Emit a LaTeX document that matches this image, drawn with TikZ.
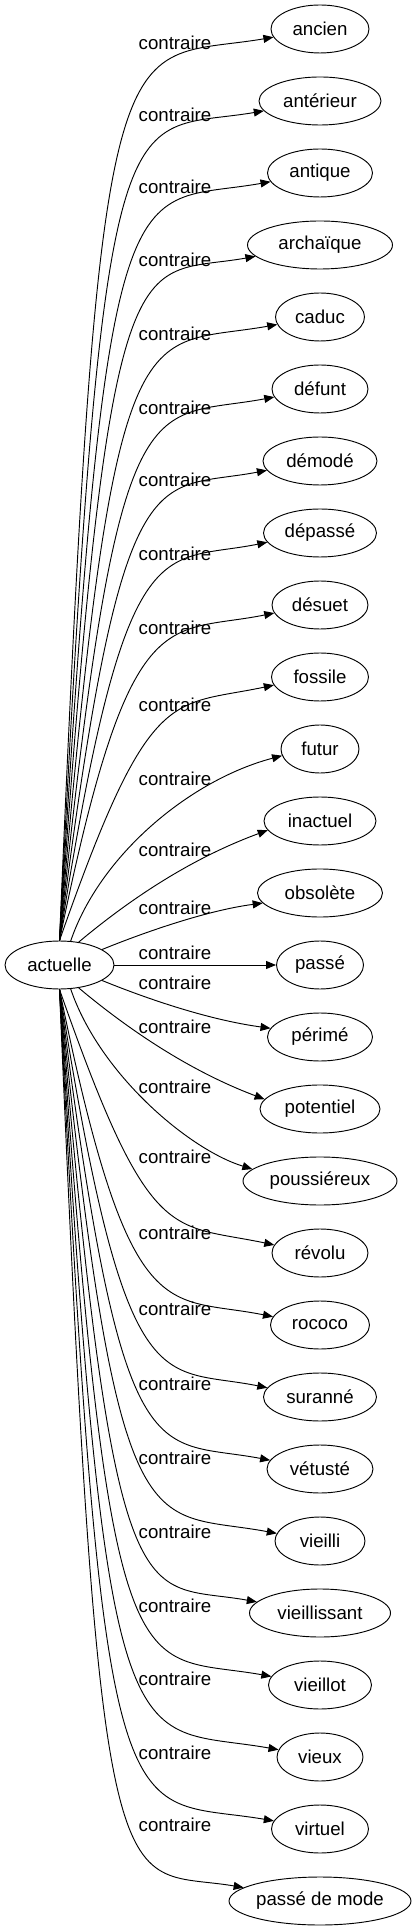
\documentclass[tikz,border=0pt]{standalone}
\usepackage{fontspec}
\setmainfont{Liberation Sans}
\usetikzlibrary{arrows.meta,shapes.geometric}

\begin{document}
\begin{tikzpicture}[x=0.75pt, y=0.75pt,
  word/.style={draw, ellipse, line width=0.7pt, inner sep=0pt, minimum height=36pt,
    minimum width=#1, font=\fontsize{14pt}{16pt}\selectfont},
  lab/.style={inner sep=0pt, font=\fontsize{14pt}{16pt}\selectfont},
  rel/.style={-{Triangle[length=7.5pt, width=6pt]}, line width=0.7pt}]
  \useasboundingbox (0,-966) rectangle (416,965);

  % Define nodes for all elements
  \node[word=81.75pt] (actuelle) at (59.5,0) {actuelle};
  \node[word=73.5pt] (ancien) at (320,936) {ancien};
  \node[word=91.5pt] (anterieur) at (320,864) {antérieur};
  \node[word=78.75pt] (antique) at (320,792) {antique};
  \node[word=108.75pt] (archaique) at (320,720) {archaïque};
  \node[word=66.75pt] (caduc) at (320,648) {caduc};
  \node[word=72pt] (defunt) at (320,576) {défunt};
  \node[word=85.5pt] (demode) at (320,504) {démodé};
  \node[word=84.75pt] (depasse) at (320,432) {dépassé};
  \node[word=72pt] (desuet) at (320,360) {désuet};
  \node[word=72.75pt] (fossile) at (320,288) {fossile};
  \node[word=58.5pt] (futur) at (320,216) {futur};
  \node[word=84pt] (inactuel) at (320,144) {inactuel};
  \node[word=93.75pt] (obsolete) at (320,72) {obsolète};
  \node[word=65.25pt] (passe) at (320,0) {passé};
  \node[word=78.75pt] (perime) at (320,-72) {périmé};
  \node[word=90pt] (potentiel) at (320,-144) {potentiel};
  \node[word=115.5pt] (poussiereux) at (320,-216) {poussiéreux};
  \node[word=72pt] (revolu) at (320,-288) {révolu};
  \node[word=74.25pt] (rococo) at (320,-360) {rococo};
  \node[word=84.75pt] (suranne) at (320,-432) {suranné};
  \node[word=79.5pt] (vetuste) at (320,-504) {vétusté};
  \node[word=67.5pt] (vieilli) at (320,-576) {vieilli};
  \node[word=105.75pt] (vieillissant) at (320,-648) {vieillissant};
  \node[word=77.25pt] (vieillot) at (320,-720) {vieillot};
  \node[word=64.5pt] (vieux) at (320,-792) {vieux};
  \node[word=72.75pt] (virtuel) at (320,-864) {virtuel};
  \node[word=136.5pt] (passedemode) at (320,-936) {passé de mode};

  % Labels
  \node[lab] (c1) at (175,922) {contraire};
  \node[lab] (c2) at (175,850) {contraire};
  \node[lab] (c3) at (175,778) {contraire};
  \node[lab] (c4) at (175,705) {contraire};
  \node[lab] (c5) at (175,631) {contraire};
  \node[lab] (c6) at (175,557) {contraire};
  \node[lab] (c7) at (175,485) {contraire};
  \node[lab] (c8) at (175,411) {contraire};
  \node[lab] (c9) at (175,337) {contraire};
  \node[lab] (c10) at (175,260) {contraire};
  \node[lab] (c11) at (175,186) {contraire};
  \node[lab] (c12) at (175,115) {contraire};
  \node[lab] (c13) at (175,57) {contraire};
  \node[lab] (c14) at (175,12) {contraire};
  \node[lab] (c15) at (175,-18) {contraire};
  \node[lab] (c16) at (175,-62) {contraire};
  \node[lab] (c17) at (175,-122) {contraire};
  \node[lab] (c18) at (175,-192) {contraire};
  \node[lab] (c19) at (175,-268) {contraire};
  \node[lab] (c20) at (175,-344) {contraire};
  \node[lab] (c21) at (175,-419) {contraire};
  \node[lab] (c22) at (175,-493) {contraire};
  \node[lab] (c23) at (175,-567) {contraire};
  \node[lab] (c24) at (175,-641) {contraire};
  \node[lab] (c25) at (175,-714) {contraire};
  \node[lab] (c26) at (175,-788) {contraire};
  \node[lab] (c27) at (175,-860) {contraire};

  % Draw arrows
  \draw[rel] (actuelle.north) .. controls (100,980) and (115,901) .. (ancien.190);
  \draw[rel] (actuelle.north) .. controls (104,904) and (121,830) .. (anterieur.190);
  \draw[rel] (actuelle.north) .. controls (107.5,828) and (127.5,758) .. (antique.190);
  \draw[rel] (actuelle.north) .. controls (111,751) and (134,687) .. (archaique.190);
  \draw[rel] (actuelle.north) .. controls (115,675) and (140,616) .. (caduc.190);
  \draw[rel] (actuelle.north) .. controls (119,599) and (146,544) .. (defunt.190);
  \draw[rel] (actuelle.north) .. controls (122.5,522) and (152.5,473) .. (demode.190);
  \draw[rel] (actuelle.north) .. controls (126,446) and (159,401) .. (depasse.190);
  \draw[rel] (actuelle.north) .. controls (130,370) and (165,330) .. (desuet.190);
  \draw[rel] (actuelle.north) .. controls (150,283) and (170,258) .. (fossile.190);
  \draw[rel] (actuelle.65) .. controls (100,110) and (190,185) .. (futur.190);
  \draw[rel] (actuelle.50) .. controls (135,70) and (195,108) .. (inactuel.190);
  \draw[rel] (actuelle.20) .. controls (150,35) and (210,55) .. (obsolete.190);
  \draw[rel] (actuelle.east) -- (passe.west);
  \draw[rel] (actuelle.-20) .. controls (150,-35) and (210,-55) .. (perime.170);
  \draw[rel] (actuelle.-50) .. controls (135,-70) and (195,-108) .. (potentiel.170);
  \draw[rel] (actuelle.-65) .. controls (100,-110) and (190,-185) .. (poussiereux.170);
  \draw[rel] (actuelle.south) .. controls (150,-283) and (170,-258) .. (revolu.170);
  \draw[rel] (actuelle.south) .. controls (130,-370) and (165,-330) .. (rococo.170);
  \draw[rel] (actuelle.south) .. controls (126,-446) and (159,-401) .. (suranne.170);
  \draw[rel] (actuelle.south) .. controls (122.5,-522) and (152.5,-473) .. (vetuste.170);
  \draw[rel] (actuelle.south) .. controls (119,-599) and (146,-544) .. (vieilli.170);
  \draw[rel] (actuelle.south) .. controls (115,-675) and (140,-616) .. (vieillissant.170);
  \draw[rel] (actuelle.south) .. controls (111,-751) and (134,-687) .. (vieillot.170);
  \draw[rel] (actuelle.south) .. controls (107.5,-828) and (127.5,-758) .. (vieux.170);
  \draw[rel] (actuelle.south) .. controls (104,-904) and (121,-830) .. (virtuel.170);
  \draw[rel] (actuelle.south) .. controls (100,-980) and (115,-901) .. (passedemode.170);

\end{tikzpicture}
\end{document}
